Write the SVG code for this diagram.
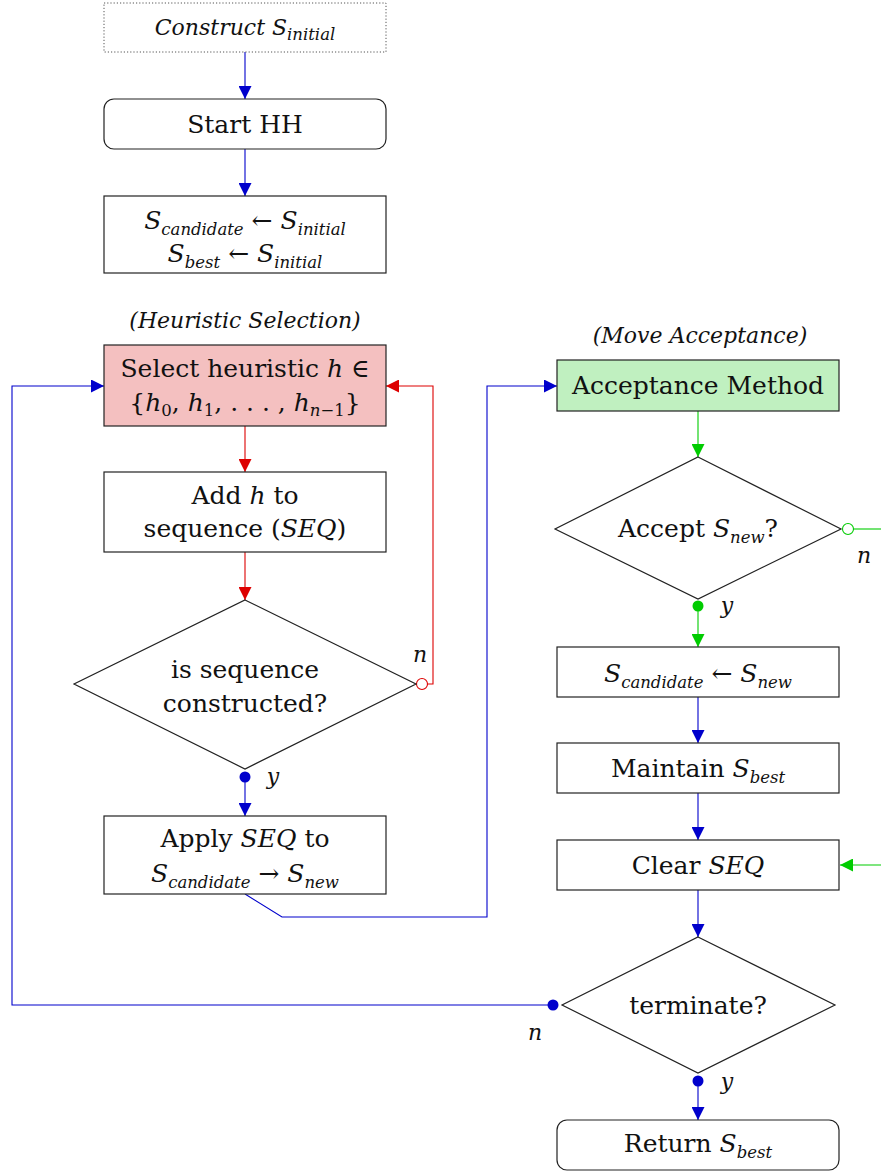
<svg xmlns="http://www.w3.org/2000/svg" width="881" height="1171" viewBox="0 0 881 1171" font-family="'DejaVu Serif', 'Liberation Serif', serif">
<style>
.t{font-family:"DejaVu Serif","Liberation Serif",serif;font-size:25px;text-anchor:middle;fill:#111}
.i{font-style:italic}
.s{font-size:16.5px}
.lab{font-family:"DejaVu Serif","Liberation Serif",serif;font-size:22px;font-style:italic;fill:#111;text-anchor:middle}
.box{fill:#fff;stroke:#222;stroke-width:1.2}
.b{stroke:#0000cc;fill:none;stroke-width:1.1}
.r{stroke:#dd0000;fill:none;stroke-width:1.1}
.g{stroke:#00cc00;fill:none;stroke-width:1.1}
</style>
<defs>
<marker id="ab" viewBox="0 0 10 10" refX="10" refY="5" markerWidth="13" markerHeight="13" markerUnits="userSpaceOnUse" orient="auto"><path d="M0,0 L10,5 L0,10 z" fill="#0000cc"/></marker>
<marker id="ar" viewBox="0 0 10 10" refX="10" refY="5" markerWidth="13" markerHeight="13" markerUnits="userSpaceOnUse" orient="auto"><path d="M0,0 L10,5 L0,10 z" fill="#dd0000"/></marker>
<marker id="ag" viewBox="0 0 10 10" refX="10" refY="5" markerWidth="13" markerHeight="13" markerUnits="userSpaceOnUse" orient="auto"><path d="M0,0 L10,5 L0,10 z" fill="#00cc00"/></marker>
</defs>

<g id="connectors">
<line class="b" x1="245" y1="52" x2="245" y2="99" marker-end="url(#ab)"/>
<line class="b" x1="245" y1="149" x2="245" y2="196" marker-end="url(#ab)"/>
<line class="r" x1="245" y1="426" x2="245" y2="472" marker-end="url(#ar)"/>
<line class="r" x1="245" y1="552" x2="245" y2="600" marker-end="url(#ar)"/>
<path class="r" d="M427.5,684 H433 V386 H386" marker-end="url(#ar)"/>
<circle cx="422" cy="684" r="5.5" fill="#fff" stroke="#dd0000" stroke-width="1.1"/>
<circle cx="245" cy="777" r="5.5" fill="#0000cc"/>
<line class="b" x1="245" y1="782" x2="245" y2="816" marker-end="url(#ab)"/>
<path class="b" d="M245,894 L282,917 H487 V386 H557" marker-end="url(#ab)"/>
<line class="g" x1="698" y1="411" x2="698" y2="457" marker-end="url(#ag)"/>
<line class="g" x1="853.5" y1="529" x2="881" y2="529"/>
<circle cx="848" cy="529" r="5.5" fill="#fff" stroke="#00cc00" stroke-width="1.1"/>
<circle cx="698" cy="606" r="5.5" fill="#00cc00"/>
<line class="g" x1="698" y1="611" x2="698" y2="647" marker-end="url(#ag)"/>
<line class="b" x1="698" y1="697" x2="698" y2="743" marker-end="url(#ab)"/>
<line class="b" x1="698" y1="793" x2="698" y2="840" marker-end="url(#ab)"/>
<line class="g" x1="881" y1="865" x2="840" y2="865" marker-end="url(#ag)"/>
<line class="b" x1="698" y1="890" x2="698" y2="937" marker-end="url(#ab)"/>
<path class="b" d="M548,1005 H12 V386 H104" marker-end="url(#ab)"/>
<circle cx="553" cy="1005" r="5.5" fill="#0000cc"/>
<circle cx="698" cy="1081" r="5.5" fill="#0000cc"/>
<line class="b" x1="698" y1="1086" x2="698" y2="1120" marker-end="url(#ab)"/>
<text class="lab" x="420" y="662">n</text>
<text class="lab" x="273" y="784">y</text>
<text class="lab" x="864" y="563">n</text>
<text class="lab" x="727" y="613">y</text>
<text class="lab" x="535" y="1040">n</text>
<text class="lab" x="727" y="1089">y</text>
</g>

<g id="construct">
<rect x="104" y="3" width="282" height="49" fill="#fff" stroke="#555" stroke-width="1" stroke-dasharray="1.2,2"/>
<text class="t i" x="245" y="35" style="font-size:22px">Construct S<tspan class="s" dy="5">initial</tspan></text>
</g>

<g id="start">
<rect class="box" x="104" y="99" width="282" height="50" rx="10"/>
<text class="t" x="245" y="133">Start HH</text>
</g>

<g id="init">
<rect class="box" x="104" y="196" width="282" height="77"/>
<text class="t" x="245" y="229"><tspan class="i">S</tspan><tspan class="i s" dy="6">candidate</tspan><tspan dy="-6"> ← </tspan><tspan class="i">S</tspan><tspan class="i s" dy="6">initial</tspan></text>
<text class="t" x="245" y="262"><tspan class="i">S</tspan><tspan class="i s" dy="6">best</tspan><tspan dy="-6"> ← </tspan><tspan class="i">S</tspan><tspan class="i s" dy="6">initial</tspan></text>
</g>

<g id="heuristic-selection-label">
<text class="lab" x="245" y="328">(Heuristic Selection)</text>
</g>

<g id="select">
<rect x="104" y="345" width="282" height="81" fill="#f4c0c0" stroke="#222" stroke-width="1.2"/>
<text class="t" x="245" y="377">Select heuristic <tspan class="i">h</tspan> ∈</text>
<text class="t" x="245" y="411">{<tspan class="i">h</tspan><tspan class="s" dy="5">0</tspan><tspan dy="-5">, </tspan><tspan class="i">h</tspan><tspan class="s" dy="5">1</tspan><tspan dy="-5">, . . . , </tspan><tspan class="i">h</tspan><tspan class="i s" dy="5">n</tspan><tspan class="s">−1</tspan><tspan dy="-5">}</tspan></text>
</g>

<g id="add">
<rect class="box" x="104" y="472" width="282" height="80"/>
<text class="t" x="245" y="504">Add <tspan class="i">h</tspan> to</text>
<text class="t" x="245" y="537">sequence (<tspan class="i">SEQ</tspan>)</text>
</g>

<g id="seq-constructed">
<polygon class="box" points="245,600 416,684 245,769 74,684"/>
<text class="t" x="245" y="678">is sequence</text>
<text class="t" x="245" y="712">constructed?</text>
</g>

<g id="apply">
<rect class="box" x="104" y="816" width="282" height="78"/>
<text class="t" x="245" y="847">Apply <tspan class="i">SEQ</tspan> to</text>
<text class="t" x="245" y="882"><tspan class="i">S</tspan><tspan class="i s" dy="6">candidate</tspan><tspan dy="-6"> → </tspan><tspan class="i">S</tspan><tspan class="i s" dy="6">new</tspan></text>
</g>

<g id="move-acceptance-label">
<text class="lab" x="700" y="343">(Move Acceptance)</text>
</g>

<g id="acceptance">
<rect x="557" y="360" width="282" height="51" fill="#c0f0c0" stroke="#222" stroke-width="1.2"/>
<text class="t" x="698" y="394">Acceptance Method</text>
</g>

<g id="accept">
<polygon class="box" points="698,457 841,529 698,599 555,529"/>
<text class="t" x="698" y="537">Accept <tspan class="i">S</tspan><tspan class="i s" dy="6">new</tspan><tspan dy="-6">?</tspan></text>
</g>

<g id="candidate-new">
<rect class="box" x="557" y="647" width="282" height="50"/>
<text class="t" x="698" y="682"><tspan class="i">S</tspan><tspan class="i s" dy="6">candidate</tspan><tspan dy="-6"> ← </tspan><tspan class="i">S</tspan><tspan class="i s" dy="6">new</tspan></text>
</g>

<g id="maintain">
<rect class="box" x="557" y="743" width="282" height="50"/>
<text class="t" x="698" y="777">Maintain <tspan class="i">S</tspan><tspan class="i s" dy="6">best</tspan></text>
</g>

<g id="clear">
<rect class="box" x="557" y="840" width="282" height="50"/>
<text class="t" x="698" y="874">Clear <tspan class="i">SEQ</tspan></text>
</g>

<g id="terminate">
<polygon class="box" points="698,937 835,1005 698,1073 562,1005"/>
<text class="t" x="698" y="1014">terminate?</text>
</g>

<g id="return">
<rect class="box" x="557" y="1120" width="282" height="50" rx="10"/>
<text class="t" x="698" y="1152">Return <tspan class="i">S</tspan><tspan class="i s" dy="6">best</tspan></text>
</g>
</svg>
